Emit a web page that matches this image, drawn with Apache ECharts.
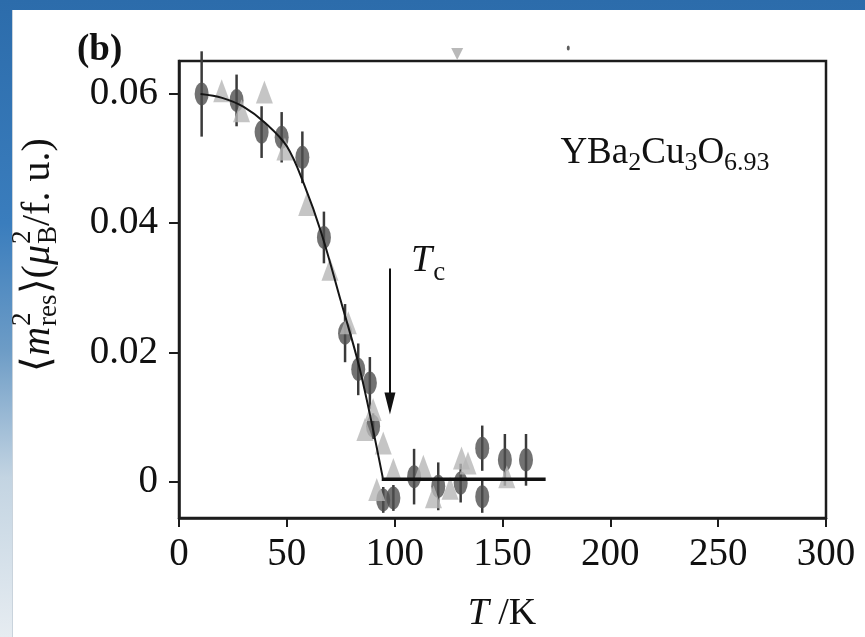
<!DOCTYPE html>
<html><head><meta charset="utf-8">
<script src="https://cdn.jsdelivr.net/npm/echarts@6/dist/echarts.min.js"></script>
<style>
html,body{margin:0;padding:0;width:865px;height:637px;overflow:hidden;}
body{position:relative;background:linear-gradient(180deg,#2c6cab 0%,#3a7dbd 35%,#6d9cc6 55%,#c3d4e2 75%,#e6ecf1 100%);}
#panel{position:absolute;left:12px;top:10px;right:0;bottom:0;background:#fff;border-left:1px solid #c9d3dc;}
#chart{position:absolute;left:0;top:0;width:865px;height:637px;}
</style></head>
<body><div id="panel"></div><div id="chart"></div>
<script>
// ---- data ----
const xTicks = [0, 50, 100, 150, 200, 250, 300];
const yTicks = [0, 0.02, 0.04, 0.06];

// dark circles with error bars
const circleT   = [10.5, 26.7, 38.3, 47.6, 57.2, 67.2, 77.0, 83.1, 88.5, 90.0, 94.7, 99.4, 109.0, 120.2, 130.6, 140.6, 140.6, 151.1, 160.9];
const circleM   = [0.0600, 0.0590, 0.0541, 0.0533, 0.0502, 0.0378, 0.0230, 0.0174, 0.0153, 0.0086, -0.0028, -0.0025, 0.0008, -0.0007, -0.0002, 0.0052, -0.0023, 0.0034, 0.0034];
const circleErr = [0.0066, 0.0040, 0.0040, 0.0039, 0.0040, 0.0040, 0.0045, 0.0040, 0.0040, 0.0020, 0.0020, 0.0020, 0.0043, 0.0037, 0.0030, 0.0035, 0.0025, 0.0040, 0.0040];

// light grey triangles
const triT = [19.8, 29.0, 39.6, 49.1, 59.2, 70.0, 78.5, 86.2, 90.0, 94.7, 91.7, 99.4, 113.3, 118.0, 125.7, 131.0, 134.0, 152.0];
const triM = [0.0605, 0.0574, 0.0603, 0.0515, 0.0429, 0.0329, 0.0246, 0.0081, 0.0112, 0.0060, -0.0012, 0.0019, 0.0024, -0.0023, -0.0010, 0.0037, 0.0029, 0.0008];

// stray marks just above the frame
const strayTriT = [129];
const strayTriM = [0.0662];
const strayDotT = [180.5];
const strayDotM = [0.0671];

// guide-to-the-eye curve and flat line above Tc
const fitT = [10, 20, 30, 40, 50, 58, 66, 75, 84, 94.5];
const fitM = [0.0600, 0.0594, 0.0580, 0.0555, 0.0519, 0.0460, 0.0385, 0.0280, 0.0172, 0.0006];
const flatT = [94, 170];
const flatM = [0.0004, 0.0004];

// Tc arrow (data coordinates)
const arrowT = [97.8, 97.8];
const arrowM = [0.0330, 0.0121];

// axis ranges
const xMin = 0, xMax = 300;
const yMin = -0.0056, yMax = 0.0651;

// ---- text helpers ----
const FAM = '"Liberation Serif","Times New Roman",serif';
const mctx = document.createElement('canvas').getContext('2d');
function fontStr(p){ return (p.style||'normal') + ' ' + (p.weight||'normal') + ' ' + p.size + 'px ' + FAM; }
function measure(t, f){ mctx.font = f; return mctx.measureText(t).width; }
function pieceGroup(pieces, x, y, rotation, center){
  let cx = 0, held = 0; const kids = [];
  pieces.forEach(p => {
    const f = fontStr(p); const wd = measure(p.t, f);
    kids.push({type:'text', x: cx, y: p.dy||0,
      style:{text:p.t, font:f, fill:'#111', textAlign:'left', textVerticalAlign:'middle', align:'left', verticalAlign:'middle'}});
    if (p.hold) { held = Math.max(held, wd); }
    else { cx += Math.max(held, wd) + (p.gap||0); held = 0; }
  });
  if (center) kids.forEach(k => k.x -= cx/2);
  return {type:'group', x:x, y:y, rotation:rotation||0, children:kids, silent:true};
}

const yLabel = pieceGroup([
  {t:'\u27E8', size:40},
  {t:'m', size:40, style:'italic', gap:1},
  {t:'2', size:27, dy:-15, hold:true},
  {t:'res', size:27, dy:11},
  {t:'\u27E9(', size:40},
  {t:'\u03BC', size:40, style:'italic', gap:1},
  {t:'2', size:27, dy:-15, hold:true},
  {t:'B', size:27, dy:11},
  {t:'/f. u.)', size:40}
], 38, 255, Math.PI/2, true);

const formula = pieceGroup([
  {t:'YBa', size:37}, {t:'2', size:26, dy:10},
  {t:'Cu', size:37}, {t:'3', size:26, dy:10},
  {t:'O', size:37}, {t:'6.93', size:26, dy:10}
], 665, 153, 0, true);

const tcLabel = pieceGroup([
  {t:'T', size:38, style:'italic', gap:1}, {t:'c', size:27, dy:12}
], 411, 261, 0, false);

const bLabel = pieceGroup([{t:'(b)', size:37, weight:'bold'}], 77, 50, 0, false);

const xName = pieceGroup([
  {t:'T', size:38, style:'italic'}, {t:' /K', size:38}
], 502, 614, 0, true);

// ---- chart ----
const chart = echarts.init(document.getElementById('chart'), null, {renderer:'canvas'});
const axisCol = '#1c1c1c';
const labelStyle = {fontFamily:FAM, fontSize:39, color:'#111'};

chart.setOption({
  backgroundColor:'transparent',
  animation:false,
  grid:{left:179, right:39, top:61, bottom:119, show:true, borderColor:axisCol, borderWidth:2.5, backgroundColor:'transparent'},
  xAxis:{type:'value', min:xMin, max:xMax, interval:50,
    axisLine:{show:true, onZero:false, lineStyle:{color:axisCol, width:2.5}},
    axisTick:{show:true, inside:false, length:9, customValues:xTicks, lineStyle:{color:axisCol, width:2}},
    axisLabel:Object.assign({margin:17, customValues:xTicks, formatter:v=>String(v)}, labelStyle),
    splitLine:{show:false}},
  yAxis:{type:'value', min:yMin, max:yMax,
    axisLine:{show:true, onZero:false, lineStyle:{color:axisCol, width:2.5}},
    axisTick:{show:true, inside:false, length:10, customValues:yTicks, lineStyle:{color:axisCol, width:2}},
    axisLabel:Object.assign({margin:21, customValues:yTicks, formatter:v=> v===0 ? '0' : v.toFixed(2)}, labelStyle),
    splitLine:{show:false}},
  graphic:[yLabel, formula, tcLabel, bLabel, xName],
  series:[
    {type:'custom', name:'errorbars', z:2,
      data: circleT.map((t,i)=>[t, circleM[i], circleErr[i]]),
      encode:{x:0, y:1},
      renderItem:(params, api)=>{
        const x = api.value(0), y = api.value(1), e = api.value(2);
        const p1 = api.coord([x, y - e]), p2 = api.coord([x, y + e]);
        return {type:'line', shape:{x1:p1[0], y1:p1[1], x2:p2[0], y2:p2[1]}, style:{stroke:'#3a3a3a', lineWidth:2.5}};
      }},
    {type:'scatter', name:'circles', z:3, symbol:'circle', symbolSize:[14,23],
      itemStyle:{color:'#4f4f4f'},
      data: circleT.map((t,i)=>[t, circleM[i]])},
    {type:'scatter', name:'triangles', z:4, symbol:'triangle', symbolSize:[17,23],
      itemStyle:{color:'#b7b7b7'},
      data: triT.map((t,i)=>[t, triM[i]])},
    {type:'scatter', name:'strayTri', z:4, clip:false, symbol:'triangle', symbolRotate:180, symbolSize:[12,12],
      itemStyle:{color:'#a8a8a8'},
      data: strayTriT.map((t,i)=>[t, strayTriM[i]])},
    {type:'scatter', name:'strayDot', z:4, clip:false, symbol:'circle', symbolSize:[3,5],
      itemStyle:{color:'#333'},
      data: strayDotT.map((t,i)=>[t, strayDotM[i]])},
    {type:'line', name:'fit', z:5, smooth:0.35, showSymbol:false, symbol:'none',
      lineStyle:{color:'#151515', width:2},
      data: fitT.map((t,i)=>[t, fitM[i]])},
    {type:'line', name:'flat', z:5, showSymbol:false, symbol:'none',
      lineStyle:{color:'#111', width:3.5},
      data: flatT.map((t,i)=>[t, flatM[i]]),
      markLine:{silent:true, symbol:['none','triangle'], symbolSize:[11,22],
        label:{show:false}, lineStyle:{color:'#111', width:2, type:'solid'},
        data:[[{coord:[arrowT[0], arrowM[0]]},{coord:[arrowT[1], arrowM[1]]}]]}}
  ]
});
</script></body></html>
